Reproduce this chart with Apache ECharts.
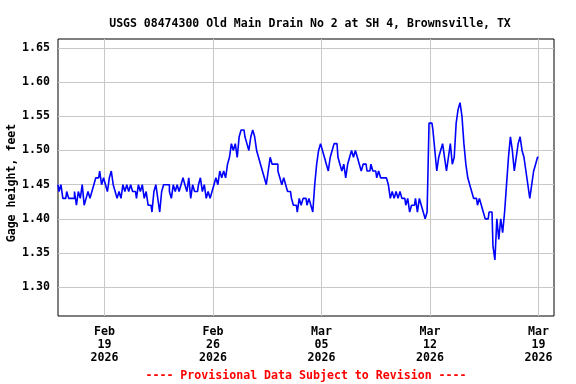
<!DOCTYPE html>
<html>
<head>
<meta charset="utf-8">
<script src="https://cdn.jsdelivr.net/npm/echarts@6/dist/echarts.min.js"></script>
<style>html,body{margin:0;padding:0;background:#fff}#c{width:576px;height:384px}</style>
</head>
<body>
<div id="c"></div>
<script>
// Gage height readings every 3 hours, starting 2026-02-16 00:00 (x unit: days since Feb 16)
const stepDays = 3 / 24;
const gageHeight = [
  1.45,1.44,1.45,1.43,1.43,1.44,1.43,1.43,
  1.43,1.44,1.42,1.44,1.43,1.45,1.42,1.43,
  1.44,1.43,1.44,1.45,1.46,1.46,1.47,1.45,
  1.46,1.45,1.44,1.46,1.47,1.45,1.44,1.43,
  1.44,1.43,1.45,1.44,1.45,1.44,1.45,1.44,
  1.44,1.43,1.45,1.44,1.45,1.43,1.44,1.42,
  1.42,1.41,1.44,1.45,1.43,1.41,1.44,1.45,
  1.45,1.45,1.44,1.43,1.45,1.44,1.45,1.44,
  1.45,1.46,1.45,1.44,1.46,1.43,1.45,1.44,
  1.44,1.45,1.46,1.44,1.45,1.43,1.44,1.43,
  1.44,1.45,1.46,1.45,1.47,1.46,1.47,1.46,
  1.48,1.49,1.51,1.50,1.51,1.49,1.52,1.53,
  1.53,1.52,1.51,1.50,1.52,1.53,1.52,1.50,
  1.49,1.48,1.47,1.46,1.45,1.47,1.49,1.48,
  1.48,1.48,1.47,1.46,1.45,1.46,1.45,1.44,
  1.44,1.43,1.42,1.42,1.41,1.43,1.42,1.43,
  1.43,1.42,1.43,1.42,1.41,1.45,1.48,1.50,
  1.51,1.50,1.49,1.48,1.47,1.49,1.50,1.51,
  1.51,1.49,1.48,1.47,1.48,1.46,1.48,1.49,
  1.50,1.49,1.50,1.49,1.48,1.47,1.48,1.48,
  1.47,1.47,1.48,1.47,1.47,1.46,1.47,1.46,
  1.46,1.46,1.46,1.45,1.43,1.44,1.43,1.44,
  1.43,1.44,1.43,1.43,1.42,1.43,1.41,1.42,
  1.42,1.43,1.41,1.43,1.42,1.41,1.40,1.41,
  1.54,1.54,1.53,1.50,1.47,1.49,1.50,1.51,
  1.49,1.47,1.49,1.51,1.48,1.49,1.54,1.56,
  1.57,1.55,1.51,1.48,1.46,1.45,1.44,1.43,
  1.43,1.42,1.43,1.42,1.41,1.40,1.40,1.41,
  1.41,1.36,1.34,1.40,1.37,1.40,1.38,1.41,
  1.45,1.49,1.52,1.50,1.47,1.49,1.51,1.52,
  1.50,1.49,1.47,1.45,1.43,1.45,1.47,1.48,
  1.49
];
// X tick positions (days since Feb 16) and labels
const xTickDays = [3, 10, 17, 24, 31];
const xTickLabels = ['Feb\n19\n2026', 'Feb\n26\n2026', 'Mar\n05\n2026', 'Mar\n12\n2026', 'Mar\n19\n2026'];
const yTicks = [1.30, 1.35, 1.40, 1.45, 1.50, 1.55, 1.60, 1.65];
const titleText = 'USGS 08474300 Old Main Drain No 2 at SH 4, Brownsville, TX';
const yName = 'Gage height, feet';
const footerText = '---- Provisional Data Subject to Revision ----';

const seriesData = gageHeight.map((v, i) => [i * stepDays, v]);
const FONT = 'DejaVu Sans Mono';

const chart = echarts.init(document.getElementById('c'), null, {renderer: 'canvas'});
chart.setOption({
  animation: false,
  backgroundColor: '#fff',
  title: {
    text: titleText, left: 305, top: 13, textAlign: 'center',
    textStyle: {fontFamily: FONT, fontWeight: 'bold', fontSize: 11.5, color: '#000'}
  },
  grid: {left: 58, right: 22, top: 39, bottom: 68, show: true, borderColor: '#000', borderWidth: 1, backgroundColor: 'transparent'},
  xAxis: {
    type: 'value', min: 0, max: 32,
    axisLine: {show: false},
    axisTick: {show: false, customValues: xTickDays},
    axisLabel: {
      customValues: xTickDays, margin: 9, lineHeight: 13,
      fontFamily: FONT, fontWeight: 'bold', fontSize: 11.6, color: '#000',
      formatter: (v) => { const i = xTickDays.indexOf(Math.round(v)); return i >= 0 ? xTickLabels[i] : ''; }
    },
    splitLine: {show: true, lineStyle: {color: '#c8c8c8', width: 1}}
  },
  yAxis: {
    type: 'value', min: 1.258, max: 1.663,
    axisLine: {show: false},
    axisTick: {show: false, customValues: yTicks},
    axisLabel: {
      customValues: yTicks, margin: 8,
      fontFamily: FONT, fontWeight: 'bold', fontSize: 11.6, color: '#000',
      formatter: (v) => v.toFixed(2)
    },
    splitLine: {show: true, lineStyle: {color: '#c8c8c8', width: 1}}
  },
  graphic: [
    {type: 'text', x: 12, y: 183, rotation: Math.PI / 2,
     style: {text: yName, fontFamily: FONT, fontWeight: 'bold', fontSize: 11.6, fill: '#000', align: 'center', verticalAlign: 'middle'}},
    {type: 'text', x: 306, y: 376,
     style: {text: footerText, fontFamily: FONT, fontWeight: 'bold', fontSize: 11.6, fill: '#ff0000', align: 'center', verticalAlign: 'middle'}}
  ],
  series: [{
    type: 'line', data: seriesData, step: 'middle', showSymbol: false,
    lineStyle: {color: '#0000ff', width: 1.6}, z: 3
  }]
});
</script>
</body>
</html>
